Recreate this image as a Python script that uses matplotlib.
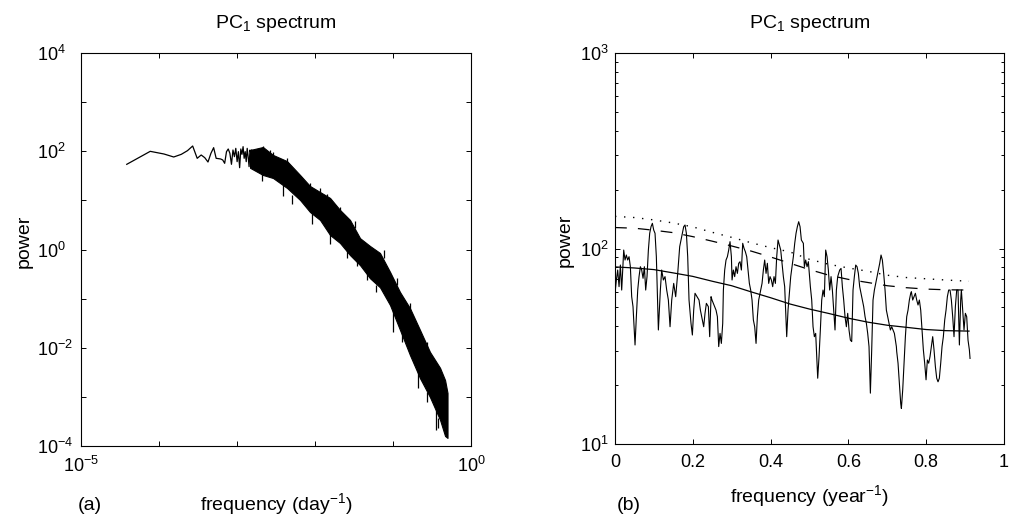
import matplotlib
matplotlib.use("Agg")
import matplotlib.pyplot as plt
import numpy as np
from matplotlib.ticker import NullLocator, FixedLocator, LogLocator

# ---------------- data: panel (a) ----------------
df_a = 3.86e-5                      # frequency resolution (day^-1)
low_k = list(range(1, 41))          # harmonic index of resolved low-frequency periodogram points
low_power = [54.2, 99.6, 87.9, 76.4, 86.5, 102.7, 127.9, 71.8, 83.9, 74.0,
             60.4, 90.8, 118.3, 71.8, 70.7, 69.6, 66.4, 56.8, 98.1, 111.2,
             90.8, 54.2, 106.0, 77.6, 114.6, 61.4, 98.1, 46.3, 111.2, 86.5,
             124.0, 71.8, 98.1, 61.4, 114.6, 77.6, 48.6, 106.0, 90.8, 106.0]

# envelope of the dense high-frequency part of the periodogram
band_freq = [1.47e-3, 2.15e-3, 2.90e-3, 4.38e-3, 6.43e-3, 8.63e-3, 1.16e-2,
             1.56e-2, 2.09e-2, 2.81e-2, 3.78e-2, 5.07e-2, 6.81e-2, 9.16e-2,
             0.123, 0.165, 0.222, 0.298, 0.401, 0.465, 0.50]
band_upper = [106, 122, 84, 63, 32.9, 19.6, 14.8, 11.2, 6.4, 4.0, 1.7, 1.18,
              0.85, 0.35, 0.136, 0.064, 0.023, 0.0082, 0.0039, 0.0022, 0.0012]
band_lower = [46, 32.9, 28.5, 17.9, 10.2, 5.8, 4.0, 1.97, 1.36, 0.77, 0.48,
              0.26, 0.17, 0.074, 0.023, 0.0071, 0.0024, 0.00099, 0.00034,
              0.00016, 0.000146]

# individual spikes sticking out of the band
spike_freq = [3.89e-3, 1.56e-2, 3.45e-2, 4.64e-2, 0.1, 0.209, 0.356,
              2.15e-3, 2.65e-3, 8.63e-3, 1.43e-2, 7.67e-2,
              2.09e-3, 5.07e-3, 9.16e-3, 2.57e-2, 6.05e-2, 0.130, 0.273, 0.378,
              2.90e-3, 4.38e-3, 1.16e-2, 2.09e-2, 3.26e-2, 0.112, 0.165, 0.273]
spike_from = [26.0, 2.74, 0.77, 0.42, 0.059, 0.0035, 0.00054,
              96.6, 80.0, 16.3, 10.2, 0.67,
              34.4, 12.9, 5.53, 0.977, 0.189, 0.020, 0.00126, 0.00037,
              76.4, 57.6, 13.5, 5.80, 2.74, 0.189, 0.0586, 0.00988]
spike_to = [12.3, 1.29, 0.46, 0.24, 0.021, 0.0015, 0.00021,
            128.0, 106.0, 22.6, 13.5, 0.98,
            24.8, 8.43, 3.30, 0.671, 0.136, 0.0131, 0.00079, 0.00023,
            96.6, 72.9, 17.9, 7.33, 3.80, 0.263, 0.0815, 0.0131]

xt_a = [1e-5, 1e-4, 1e-3, 1e-2, 1e-1, 1e0]
xt_a_labels = [r"$10^{-5}$", "", "", "", "", r"$10^{0}$"]
yt_a = [1e-4, 1e-3, 1e-2, 1e-1, 1e0, 1e1, 1e2, 1e3, 1e4]
yt_a_labels = [r"$10^{-4}$", "", r"$10^{-2}$", "", r"$10^{0}$", "", r"$10^{2}$", "", r"$10^{4}$"]

# ---------------- data: panel (b) ----------------
fb = [0.000, 0.0035, 0.0069, 0.0104, 0.0138, 0.0172, 0.0224, 0.0258, 0.0292, 0.0326,
      0.0361, 0.0395, 0.0429, 0.0463, 0.0515, 0.0549, 0.0584, 0.0618, 0.0652, 0.0686,
      0.0721, 0.0755, 0.0789, 0.0823, 0.0858, 0.0892, 0.0926, 0.0961, 0.0995, 0.1029,
      0.1063, 0.1115, 0.1166, 0.1200, 0.1243, 0.1286, 0.1329, 0.1372, 0.1415, 0.1458,
      0.1509, 0.1560, 0.1612, 0.1663, 0.1697, 0.1732, 0.1766, 0.1800, 0.1835, 0.1869,
      0.1903, 0.1954, 0.1989, 0.2023, 0.2057, 0.2109, 0.2160, 0.2195, 0.2229, 0.2280,
      0.2314, 0.2349, 0.2400, 0.2434, 0.2469,
      0.2494, 0.2546, 0.2597, 0.2632, 0.2666, 0.2700, 0.2734, 0.2769, 0.2786, 0.2820,
      0.2854, 0.2889, 0.2923, 0.2957, 0.2992, 0.3009, 0.3043, 0.3077, 0.3111, 0.3146,
      0.3180, 0.3214, 0.3249, 0.3283, 0.3317, 0.3351, 0.3386, 0.3420, 0.3454, 0.3488,
      0.3523, 0.3557, 0.3591, 0.3626, 0.3660, 0.3694, 0.3728, 0.3780, 0.3814, 0.3848,
      0.3883, 0.3917, 0.3951, 0.3985, 0.4020, 0.4054, 0.4088, 0.4123, 0.4157, 0.4191,
      0.4225, 0.4260, 0.4294, 0.4328, 0.4362, 0.4397, 0.4414, 0.4448, 0.4483, 0.4517,
      0.4551, 0.4585, 0.4620, 0.4654, 0.4688, 0.4722, 0.4757, 0.4791,
      0.4842, 0.4868, 0.4902, 0.4937, 0.4971, 0.5022, 0.5057, 0.5091, 0.5125, 0.5159,
      0.5194, 0.5211, 0.5245, 0.5279, 0.5314, 0.5348, 0.5382, 0.5416, 0.5451, 0.5485,
      0.5519, 0.5554, 0.5588, 0.5622, 0.5656, 0.5691, 0.5725, 0.5776, 0.5811, 0.5845,
      0.5879, 0.5913, 0.5948, 0.5982, 0.6016, 0.6051, 0.6085, 0.6119, 0.6153, 0.6188,
      0.6222, 0.6256, 0.6290, 0.6325, 0.6359, 0.6393, 0.6428, 0.6462, 0.6496, 0.6530,
      0.6565, 0.6599, 0.6633, 0.6668, 0.6702, 0.6736, 0.6770, 0.6805, 0.6839, 0.6873,
      0.6907, 0.6942, 0.6976, 0.7010, 0.7045, 0.7079, 0.7113, 0.7147, 0.7182, 0.7233,
      0.7242, 0.7276, 0.7310, 0.7345, 0.7362, 0.7396, 0.7430, 0.7465, 0.7499, 0.7533,
      0.7567, 0.7602, 0.7619, 0.7653, 0.7687, 0.7722, 0.7756, 0.7790, 0.7824, 0.7859,
      0.7893, 0.7927, 0.7961, 0.7996, 0.8030, 0.8064, 0.8098, 0.8133, 0.8167, 0.8201,
      0.8236, 0.8270, 0.8304, 0.8338, 0.8373, 0.8407, 0.8441, 0.8476, 0.8510, 0.8544,
      0.8578, 0.8613, 0.8647, 0.8681, 0.8715, 0.8750, 0.8784, 0.8818, 0.8853, 0.8887,
      0.8904, 0.8938, 0.8972, 0.9007, 0.9041, 0.9075, 0.9110, 0.9127]
pb = [59.0, 69.0, 77.6, 63.8, 82.3, 61.3, 98.2, 87.3, 92.6, 87.3,
      90.8, 80.7, 56.7, 50.4, 32.1, 44.8, 61.3, 71.8, 80.7, 77.6,
      70.4, 80.7, 61.3, 71.8, 98.2, 119.6, 129.3, 134.5, 124.3, 119.6,
      90.8, 38.3, 61.3, 77.6, 69.0, 71.8, 61.3, 54.5, 39.8, 54.5,
      66.3, 56.7, 74.6, 102.2, 110.5, 119.6, 129.3, 131.9, 119.6, 90.8,
      54.5, 41.4, 36.1, 48.4, 59.0, 56.7, 54.5, 48.4, 44.8, 39.8,
      46.6, 52.4, 50.4, 35.4, 56.7,
      54.5, 51.4, 48.4, 44.8, 31.5, 36.8, 32.7, 41.4, 61.3, 77.6,
      87.3, 90.8, 98.2, 108.4, 90.8, 69.0, 77.6, 71.8, 80.7, 74.6,
      84.0, 85.6, 77.6, 106.3, 100.2, 96.3, 90.8, 77.6, 66.3, 61.3,
      54.5, 43.1, 39.8, 32.7, 44.8, 54.5, 59.0, 66.3, 77.6, 87.3,
      74.6, 84.0, 66.3, 71.8, 69.0, 63.8, 71.8, 66.3, 90.8, 110.5,
      104.2, 98.2, 84.0, 71.8, 63.8, 43.1, 35.4, 48.4, 59.0, 71.8,
      80.7, 90.8, 106.3, 119.6, 129.3, 137.1, 129.3, 110.5,
      106.3, 80.7, 87.3, 80.7, 85.6, 63.8, 54.5, 39.8, 35.4, 36.8,
      25.9, 21.7, 28.0, 38.3, 54.5, 61.3, 56.7, 98.2, 90.8, 77.6,
      61.3, 71.8, 61.3, 48.4, 38.3, 61.3, 71.8, 77.6, 79.1, 63.8,
      54.5, 44.8, 39.8, 46.6, 38.3, 34.0, 33.4, 61.3, 71.8, 82.3,
      80.7, 74.6, 63.8, 59.0, 54.5, 50.4, 44.8, 41.4, 36.8, 31.5,
      18.2, 30.3, 54.5, 61.3, 66.3, 71.8, 77.6, 84.0, 92.6, 87.3,
      74.6, 61.3, 48.4, 44.8, 41.4, 38.3, 39.8, 38.3, 36.8, 31.5,
      29.7, 25.9, 20.4, 16.1, 15.2, 18.9, 25.9, 35.4, 44.8, 48.4,
      54.5, 59.0, 60.1, 54.5, 56.7, 59.0, 54.5, 51.4, 54.5, 48.4,
      38.3, 30.3, 25.9, 21.3, 26.9, 25.9, 28.0, 31.5, 35.4, 30.3,
      24.9, 21.7, 20.8, 21.7, 25.9, 31.5, 35.4, 43.1, 48.4, 56.7,
      61.3, 61.3, 54.5, 44.8, 35.4, 50.4, 61.3, 61.3, 32.1, 54.5,
      61.3, 48.4, 38.3, 46.6, 44.8, 34.0, 30.3, 27.4]

fs = [0, 0.05, 0.1, 0.15, 0.2, 0.25, 0.3, 0.35, 0.4, 0.45, 0.5, 0.55, 0.6,
      0.65, 0.7, 0.75, 0.8, 0.85, 0.91]
red_noise = [80.5, 79.5, 78, 75, 72, 68, 64.5, 60, 56, 52, 49, 46.5, 44, 42,
             40.5, 39.5, 38.5, 38, 37.8]
conf_95 = [128, 127, 124, 120.5, 115, 109, 103, 97, 90.5, 84, 78, 73, 69.5,
           67, 64.5, 63, 62, 61.5, 61.3]
conf_99 = [146, 144, 140, 135, 129, 121, 114, 107, 101, 96, 88, 83, 79.5,
           76.5, 73, 71, 70, 69, 68]

xt_b = [0, 0.2, 0.4, 0.6, 0.8, 1.0]
xt_b_labels = ["0", "0.2", "0.4", "0.6", "0.8", "1"]
yt_b = [1e1, 1e2, 1e3]
yt_b_labels = [r"$10^{1}$", r"$10^{2}$", r"$10^{3}$"]

# ---------------- style ----------------
plt.rcParams['font.family'] = ['Liberation Sans', 'DejaVu Sans']
plt.rcParams['mathtext.fontset'] = 'custom'
plt.rcParams['mathtext.rm'] = 'Liberation Sans'
plt.rcParams['mathtext.it'] = 'Liberation Sans:italic'
plt.rcParams['mathtext.bf'] = 'Liberation Sans:bold'
plt.rcParams['mathtext.default'] = 'regular'
plt.rcParams['lines.scale_dashes'] = False

TICK_FS = 13
LAB_FS = 14

W, H = 1015, 516
fig = plt.figure(figsize=(W / 100, H / 100), dpi=100)
ax1 = fig.add_axes([81 / W, 1 - 446 / H, 390 / W, 393 / H])
ax2 = fig.add_axes([615 / W, 1 - 444 / H, 389 / W, 391 / H])

# ---- panel (a)
low_f = np.array(low_k) * df_a
ax1.plot(low_f, low_power, color='black', lw=0.9)
ax1.fill_between(band_freq, band_lower, band_upper, color='black',
                 lw=0.8, edgecolor='black')
ax1.vlines(spike_freq, spike_from, spike_to, color='black', lw=0.9)
ax1.set_xscale('log')
ax1.set_yscale('log')
ax1.set_xlim(1e-5, 1e0)
ax1.set_ylim(1e-4, 1e4)
ax1.xaxis.set_major_locator(FixedLocator(xt_a))
ax1.set_xticklabels(xt_a_labels)
ax1.yaxis.set_major_locator(FixedLocator(yt_a))
ax1.set_yticklabels(yt_a_labels)
ax1.xaxis.set_minor_locator(NullLocator())
ax1.yaxis.set_minor_locator(NullLocator())

# ---- panel (b)
ax2.plot(fb, pb, color='black', lw=0.8)
ax2.plot(fs, red_noise, color='black', lw=0.9)
ax2.plot(fs, conf_95, color='black', lw=0.9, linestyle=(0, (8.5, 8.0)))
ax2.plot(fs, conf_99, color='black', lw=1.0, linestyle=(0, (1.0, 5.5)))
ax2.set_yscale('log')
ax2.set_xlim(0, 1)
ax2.set_ylim(1e1, 1e3)
ax2.xaxis.set_major_locator(FixedLocator(xt_b))
ax2.set_xticklabels(xt_b_labels)
ax2.yaxis.set_major_locator(FixedLocator(yt_b))
ax2.set_yticklabels(yt_b_labels)
ax2.yaxis.set_minor_locator(LogLocator(base=10, subs=np.arange(2, 10), numticks=20))

for ax, ypad in ((ax1, 31.5), (ax2, 25.0)):
    for s in ax.spines.values():
        s.set_linewidth(0.8)
    ax.tick_params(which='both', direction='in', top=True, right=True,
                   width=0.7, labelsize=TICK_FS)
    ax.tick_params(which='major', length=3.5)
    ax.tick_params(which='minor', length=2.0)
    ax.tick_params(axis='x', pad=7)
    ax.tick_params(axis='y', pad=ypad)
    for lab in ax.get_yticklabels():
        lab.set_horizontalalignment('left')

ax1.set_ylabel('power', fontsize=LAB_FS)
ax2.set_ylabel('power', fontsize=LAB_FS)
ax1.yaxis.set_label_coords(-0.125, 0.52)
ax2.yaxis.set_label_coords(-0.105, 0.52)
ax1.set_xlabel(r'frequency (day$^{-1}$)', fontsize=LAB_FS)
ax2.set_xlabel(r'frequency (year$^{-1}$)', fontsize=LAB_FS)
ax1.xaxis.set_label_coords(0.5, -0.115)
ax2.xaxis.set_label_coords(0.5, -0.10)

fig.text(276 / W, 1 - 28 / H, r'PC$_1$ spectrum', ha='center', va='baseline', fontsize=LAB_FS)
fig.text(810 / W, 1 - 28 / H, r'PC$_1$ spectrum', ha='center', va='baseline', fontsize=LAB_FS)
fig.text(90 / W, 1 - 505 / H, '(a)', ha='center', va='center', fontsize=LAB_FS)
fig.text(629 / W, 1 - 505 / H, '(b)', ha='center', va='center', fontsize=LAB_FS)

fig.savefig('out.png', dpi=100)
